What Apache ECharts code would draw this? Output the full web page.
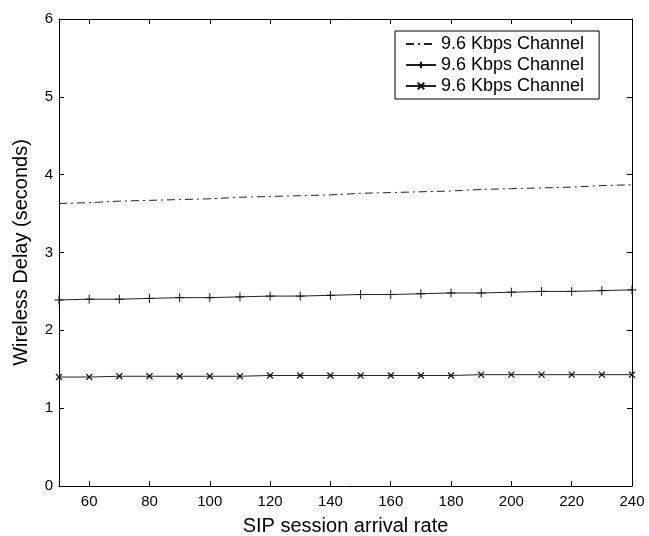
<!DOCTYPE html>
<html>
<head>
<meta charset="utf-8">
<script src="https://cdn.jsdelivr.net/npm/echarts@6/dist/echarts.min.js"></script>
<style>
html,body{margin:0;padding:0;background:#fff;}
#chart{width:649px;height:536px;}
</style>
</head>
<body>
<div id="chart"></div>
<script>
// ---- data ----
var arrivalRates = [50,60,70,80,90,100,110,120,130,140,150,160,170,180,190,200,210,220,230,240];
var seriesNames = ['9.6 Kbps Channel','9.6 Kbps Channel ','9.6 Kbps Channel  '];
var delayDashDot = [3.63,3.64,3.66,3.67,3.68,3.69,3.71,3.72,3.73,3.74,3.76,3.77,3.78,3.79,3.81,3.82,3.83,3.84,3.86,3.87];
var delayPlus = [2.39,2.40,2.40,2.41,2.42,2.42,2.43,2.44,2.44,2.45,2.46,2.46,2.47,2.48,2.48,2.49,2.50,2.50,2.51,2.52];
var delayCross = [1.40,1.40,1.41,1.41,1.41,1.41,1.41,1.42,1.42,1.42,1.42,1.42,1.42,1.42,1.43,1.43,1.43,1.43,1.43,1.43];
var xTickValues = [60,80,100,120,140,160,180,200,220,240];
var yTickValues = [0,1,2,3,4,5,6];

function pairs(xs, ys){ return xs.map(function(x,i){ return [x, ys[i]]; }); }

var FONT = '"Liberation Sans", Arial, Helvetica, sans-serif';
var axisLineStyle = {color:'#000', width:1};

var chart = echarts.init(document.getElementById('chart'), null, {renderer:'canvas'});
chart.setOption({
  animation:false,
  backgroundColor:'#fff',
  grid:{left:59, right:17, top:19, bottom:50, containLabel:false, outerBoundsMode:'none'},
  legend:{
    orient:'vertical', left:395, top:31,
    padding:[4,5,4,10],
    itemWidth:30, itemHeight:8, itemGap:3,
    borderColor:'#000', borderWidth:1,
    backgroundColor:'#fff',
    selectedMode:false,
    textStyle:{fontFamily:FONT, fontSize:18, color:'#000', lineHeight:18},
    data:seriesNames
  },
  xAxis:[{
    type:'value', min:50, max:240, position:'bottom',
    name:'SIP session arrival rate', nameLocation:'middle', nameGap:30,
    nameTextStyle:{fontFamily:FONT, fontSize:20, color:'#000'},
    axisLine:{show:true, onZero:false, lineStyle:axisLineStyle},
    axisTick:{show:true, inside:true, length:5, customValues:xTickValues, lineStyle:axisLineStyle},
    axisLabel:{show:true, margin:8, customValues:xTickValues, fontFamily:FONT, fontSize:15, color:'#000'},
    splitLine:{show:false}
  },{
    type:'value', min:50, max:240, position:'top',
    axisLine:{show:true, onZero:false, lineStyle:axisLineStyle},
    axisTick:{show:true, inside:true, length:5, customValues:xTickValues, lineStyle:axisLineStyle},
    axisLabel:{show:false},
    splitLine:{show:false}
  }],
  yAxis:[{
    type:'value', min:0, max:6, interval:1, position:'left',
    name:'Wireless Delay (seconds)', nameLocation:'middle', nameGap:28,
    nameTextStyle:{fontFamily:FONT, fontSize:20, color:'#000'},
    axisLine:{show:true, onZero:false, lineStyle:axisLineStyle},
    axisTick:{show:true, inside:true, length:5, customValues:yTickValues, lineStyle:axisLineStyle},
    axisLabel:{show:true, margin:6, customValues:yTickValues, fontFamily:FONT, fontSize:15, color:'#000'},
    splitLine:{show:false}
  },{
    type:'value', min:0, max:6, interval:1, position:'right',
    axisLine:{show:true, onZero:false, lineStyle:axisLineStyle},
    axisTick:{show:true, inside:true, length:5, customValues:yTickValues, lineStyle:axisLineStyle},
    axisLabel:{show:false},
    splitLine:{show:false}
  }],
  series:[{
    name:seriesNames[0], type:'line', xAxisIndex:0, yAxisIndex:0,
    data:pairs(arrivalRates, delayDashDot),
    symbol:'none', showSymbol:false,
    lineStyle:{color:'#222', width:1, type:[8,4,2,4]},
    itemStyle:{color:'transparent', borderColor:'transparent', borderWidth:0},
    emphasis:{disabled:true}, silent:true
  },{
    name:seriesNames[1], type:'line', xAxisIndex:0, yAxisIndex:0,
    data:pairs(arrivalRates, delayPlus),
    symbol:'path://M0,5L10,5M5,0L5,10', symbolSize:[9,9],
    lineStyle:{color:'#222', width:1},
    itemStyle:{color:'none', borderColor:'#111', borderWidth:1},
    emphasis:{disabled:true}, silent:true
  },{
    name:seriesNames[2], type:'line', xAxisIndex:0, yAxisIndex:0,
    data:pairs(arrivalRates, delayCross),
    symbol:'path://M0,0L10,10M10,0L0,10', symbolSize:[6,6],
    lineStyle:{color:'#222', width:1},
    itemStyle:{color:'none', borderColor:'#111', borderWidth:1.2},
    emphasis:{disabled:true}, silent:true
  }]
});
</script>
</body>
</html>
